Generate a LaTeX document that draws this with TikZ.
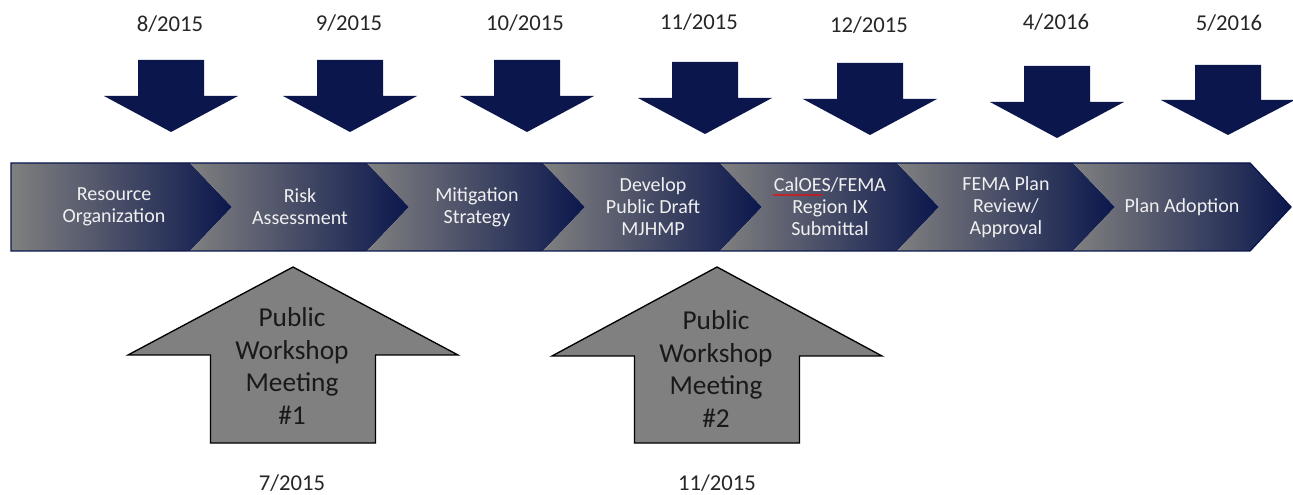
\documentclass[tikz,border=0pt]{standalone}
\usepackage{fontspec}
\setmainfont{Carlito}
\usetikzlibrary{decorations.pathmorphing}
\definecolor{navy}{RGB}{11,23,76}
\definecolor{stepgray}{RGB}{128,128,128}

\begin{document}
\begin{tikzpicture}[x=0.75pt,y=-0.75pt,line join=miter,every node/.style={inner sep=1pt},
  datelbl/.style={font=\fontsize{17}{20}\selectfont,text=black!85,anchor=base},
  steplbl/.style={font=\fontsize{15}{16.5}\selectfont,text=white!94!black,align=center},
  meetlbl/.style={font=\fontsize{20.5}{24.4}\selectfont,text=black!90,align=center},
  downarr/.style={fill=navy},
  uparr/.style={fill=stepgray,draw=black,line width=1pt},
  stepfill/.style={left color=stepgray,right color=navy}]
  \useasboundingbox (0,0) rectangle (1293,495);
  \def\ty{163}
  \def\my{207}
  \def\by{251}
  % dates on top
  \node[datelbl] (d1) at (170,32) {8/2015};
  \node[datelbl] (d2) at (349,31) {9/2015};
  \node[datelbl] (d3) at (525,31) {10/2015};
  \node[datelbl] (d4) at (699,30) {11/2015};
  \node[datelbl] (d5) at (869,33) {12/2015};
  \node[datelbl] (d6) at (1056,30) {4/2016};
  \node[datelbl] (d7) at (1229,31) {5/2016};
  % down arrows
  \begin{scope}[shift={(171,60)}]
    \fill[downarr] (-33,0) -- (33,0) -- (33,36) -- (67,36) -- (0,72) -- (-67,36) -- (-33,36) -- cycle;
  \end{scope}
  \begin{scope}[shift={(350,60)}]
    \fill[downarr] (-33,0) -- (33,0) -- (33,36) -- (67,36) -- (0,72) -- (-67,36) -- (-33,36) -- cycle;
  \end{scope}
  \begin{scope}[shift={(527,60)}]
    \fill[downarr] (-33,0) -- (33,0) -- (33,36) -- (67,36) -- (0,72) -- (-67,36) -- (-33,36) -- cycle;
  \end{scope}
  \begin{scope}[shift={(705,62)}]
    \fill[downarr] (-33,0) -- (33,0) -- (33,36) -- (67,36) -- (0,72) -- (-67,36) -- (-33,36) -- cycle;
  \end{scope}
  \begin{scope}[shift={(870,63)}]
    \fill[downarr] (-33,0) -- (33,0) -- (33,36) -- (67,36) -- (0,72) -- (-67,36) -- (-33,36) -- cycle;
  \end{scope}
  \begin{scope}[shift={(1057,66)}]
    \fill[downarr] (-33,0) -- (33,0) -- (33,36) -- (67,36) -- (0,72) -- (-67,36) -- (-33,36) -- cycle;
  \end{scope}
  \begin{scope}[shift={(1228,65)}]
    \fill[downarr] (-33,0) -- (33,0) -- (33,35) -- (67,35) -- (0,70) -- (-67,35) -- (-33,35) -- cycle;
  \end{scope}
  % chevron band
  \shade[stepfill] (11,\ty) -- (190,\ty) -- (232,\my) -- (190,\by) -- (11,\by) -- cycle;
  \shade[stepfill] (190,\ty) -- (367,\ty) -- (409,\my) -- (367,\by) -- (190,\by) -- (232,\my) -- cycle;
  \shade[stepfill] (367,\ty) -- (543,\ty) -- (585,\my) -- (543,\by) -- (367,\by) -- (409,\my) -- cycle;
  \shade[stepfill] (543,\ty) -- (720,\ty) -- (762,\my) -- (720,\by) -- (543,\by) -- (585,\my) -- cycle;
  \shade[stepfill] (720,\ty) -- (897,\ty) -- (939,\my) -- (897,\by) -- (720,\by) -- (762,\my) -- cycle;
  \shade[stepfill] (897,\ty) -- (1073,\ty) -- (1115,\my) -- (1073,\by) -- (897,\by) -- (939,\my) -- cycle;
  \shade[stepfill] (1073,\ty) -- (1250,\ty) -- (1291,\my) -- (1250,\by) -- (1073,\by) -- (1115,\my) -- cycle;
  \draw[navy,line width=1pt] (11,\ty) -- (1250,\ty) -- (1291,\my) -- (1250,\by) -- (11,\by) -- cycle;
  \node[steplbl] (s1) at (114,\my) {Resource\\Organization};
  \node[steplbl] (s2) at (300,\my) {Risk\\Assessment};
  \node[steplbl] (s3) at (477,\my) {Mitigation\\Strategy};
  \node[steplbl] (s4) at (653,\my) {Develop\\Public Draft\\MJHMP};
  \node[steplbl] (s5) at (830,\my) {CalOES/FEMA\\Region IX\\Submittal};
  \node[steplbl] (s6) at (1006,\my) {FEMA Plan\\Review/\\Approval};
  \node[steplbl] (s7) at (1182,\my) {Plan Adoption};
  \draw[red,line width=0.6pt,decorate,decoration={snake,amplitude=0.5pt,segment length=2.5pt}] (773,195) -- (823,195);
  % up arrows
  \begin{scope}[shift={(293,267)}]
    \draw[uparr] (0,0) -- (165,88) -- (82.5,88) -- (82.5,176) -- (-82.5,176) -- (-82.5,88) -- (-165,88) -- cycle;
  \end{scope}
  \begin{scope}[shift={(717,267)}]
    \draw[uparr] (0,0) -- (165,89) -- (82.5,89) -- (82.5,176) -- (-82.5,176) -- (-82.5,89) -- (-165,89) -- cycle;
  \end{scope}
  \node[meetlbl] (m1) at (292,366) {Public\\Workshop\\Meeting\\\#1};
  \node[meetlbl] (m2) at (716,369) {Public\\Workshop\\Meeting\\\#2};
  % dates below
  \node[datelbl] (b1) at (292,490) {7/2015};
  \node[datelbl] (b2) at (717,490) {11/2015};
\end{tikzpicture}
\end{document}
